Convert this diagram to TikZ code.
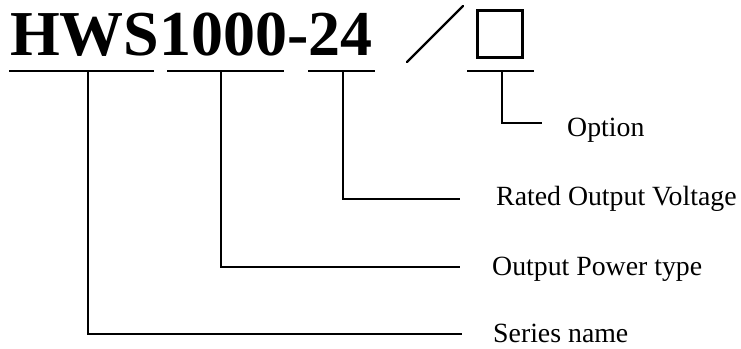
\documentclass[tikz,border=0pt]{standalone}
\usepackage{fontspec}
\setmainfont{Liberation Serif}
\begin{document}
\begin{tikzpicture}[x=1pt,y=-1pt,
  lbl/.style={anchor=base west,inner sep=0pt,font=\fontsize{27.8}{28}\selectfont},
  uline/.style={line width=1.8pt},
  conn/.style={line width=1.6pt}]
\useasboundingbox (0,0) rectangle (741,348);
% title
\node[anchor=base west,inner sep=0pt,font=\fontsize{64}{64}\selectfont\bfseries] (title) at (10,55) {HWS1000-24};
\coordinate (s1) at (407,62);
\coordinate (s2) at (463,6);
\draw[line width=2.4pt,line cap=round] (s1) -- (s2);
\node[draw,line width=2.6pt,minimum width=45pt,minimum height=47pt,inner sep=0pt] (box) at (500,34) {};
% underlines
\coordinate (a1) at (9,71);   \coordinate (a2) at (154,71);
\coordinate (b1) at (167,71); \coordinate (b2) at (284,71);
\coordinate (c1) at (308,71); \coordinate (c2) at (375,71);
\coordinate (d1) at (467,71); \coordinate (d2) at (534,71);
\draw[uline] (a1) -- (a2);
\draw[uline] (b1) -- (b2);
\draw[uline] (c1) -- (c2);
\draw[uline] (d1) -- (d2);
\coordinate (ta) at (88,71);
\coordinate (tb) at (221,71);
\coordinate (tc) at (343,71);
\coordinate (td) at (502,71);
% labels
\node[lbl] (opt) at (567,136) {Option};
\node[lbl] (rov) at (496,205) {Rated Output Voltage};
\node[lbl] (opw) at (492,275) {Output Power type};
\node[lbl] (ser) at (493,342.5) {Series name};
\coordinate (eo) at (542,123);
\coordinate (er) at (460,199);
\coordinate (ep) at (460,267);
\coordinate (es) at (462,334);
\draw[conn] (td) |- (eo);
\draw[conn] (tc) |- (er);
\draw[conn] (tb) |- (ep);
\draw[conn] (ta) |- (es);
\end{tikzpicture}
\end{document}
